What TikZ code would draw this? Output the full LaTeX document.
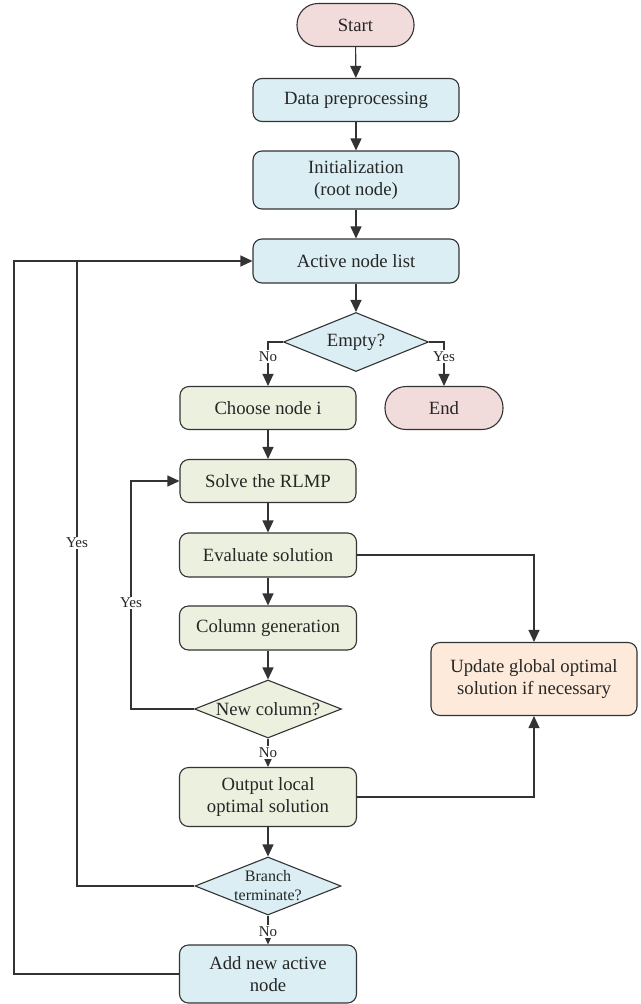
\documentclass[tikz,border=0pt]{standalone}
\usepackage{fontspec}
\setmainfont{Liberation Serif}
\usetikzlibrary{shapes.geometric,arrows.meta}
\definecolor{pinkc}{HTML}{F2DCDB}
\definecolor{bluec}{HTML}{DBEEF4}
\definecolor{greenc}{HTML}{EBF1DE}
\definecolor{orangec}{HTML}{FDEADA}
\definecolor{linec}{HTML}{333333}
\begin{document}
\begin{tikzpicture}[x=1pt,y=-1pt,
 base/.style={draw=linec,line width=1.1pt,align=center,inner sep=0pt,font=\fontsize{18.7}{22}\selectfont,text=black!85},
 box/.style={base,rectangle,rounded corners=9pt},
 pill/.style={base,rectangle,rounded corners=21pt},
 dia/.style={base,diamond,aspect=2.5},
 arr/.style={draw=linec,line width=1.1pt,-{Triangle[length=12pt,width=11pt]}},
 ln/.style={draw=linec,line width=1.1pt},
 lab/.style={fill=white,inner sep=1.5pt,text=black!85,font=\fontsize{15}{17}\selectfont}]
\useasboundingbox (0,0) rectangle (640,1004);
\node[pill,fill=pinkc,minimum width=117pt,minimum height=43pt] (start) at (355.5,25) {Start};
\node[box,fill=bluec,minimum width=206pt,minimum height=43pt] (data) at (356,100) {Data preprocessing};
\node[box,fill=bluec,minimum width=206pt,minimum height=58pt] (init) at (356,180) {Initialization\\(root node)};
\node[box,fill=bluec,minimum width=206pt,minimum height=44pt] (active) at (356,261) {Active node list};
\node[dia,fill=bluec,minimum width=145pt,minimum height=59pt] (empty) at (356,342) {Empty?};
\node[box,fill=greenc,minimum width=176pt,minimum height=43pt] (choose) at (268,408) {Choose node i};
\node[pill,fill=pinkc,minimum width=118pt,minimum height=43pt] (endn) at (444,408) {End};
\node[box,fill=greenc,minimum width=176pt,minimum height=43pt] (solve) at (268,481) {Solve the RLMP};
\node[box,fill=greenc,minimum width=177pt,minimum height=44pt] (eval) at (268,555) {Evaluate solution};
\node[box,fill=greenc,minimum width=177pt,minimum height=44pt] (colgen) at (268,628) {Column generation};
\node[dia,fill=greenc,minimum width=147pt,minimum height=58pt] (newcol) at (268,709) {New column?};
\node[box,fill=orangec,minimum width=206pt,minimum height=73pt] (update) at (534,679) {Update global optimal\\solution if necessary};
\node[box,fill=greenc,minimum width=177pt,minimum height=59pt] (output) at (268,797) {Output local\\optimal solution};
\node[dia,fill=bluec,minimum width=146pt,minimum height=58pt,font=\fontsize{16}{19}\selectfont] (branch) at (268,886) {Branch\\terminate?};
\node[box,fill=bluec,minimum width=177pt,minimum height=58pt] (addnew) at (268,974) {Add new active\\node};
\coordinate (yesx) at (131,481);
\coordinate (lx) at (14,261);
\coordinate (bx) at (77,261);
\draw[arr] (start) -- (data);
\draw[arr] (data) -- (init);
\draw[arr] (init) -- (active);
\draw[arr] (active) -- (empty);
\draw[arr] (empty.west) -| node[lab,pos=0.67]{No} (choose.north);
\draw[arr] (empty.east) -| node[lab,pos=0.67]{Yes} (endn.north);
\draw[arr] (choose) -- (solve);
\draw[arr] (solve) -- (eval);
\draw[arr] (eval) -- (colgen);
\draw[arr] (colgen) -- (newcol);
\draw[arr] (newcol) -- node[lab,pos=0.5]{No} (output);
\draw[arr] (output) -- (branch);
\draw[arr] (branch) -- node[lab,pos=0.55]{No} (addnew);
\draw[arr] (newcol.west) -- (newcol.west -| yesx) |- (solve.west);
\node[lab] (yes1) at (131,603) {Yes};
\draw[arr] (addnew.west) -- (addnew.west -| lx) -- (lx) -- (active.west);
\draw[ln] (branch.west) -- (branch.west -| bx) -- (bx);
\node[lab] (yes2) at (77,543) {Yes};
\draw[arr] (eval.east) -| (update.north);
\draw[arr] (output.east) -| (update.south);
\end{tikzpicture}
\end{document}
